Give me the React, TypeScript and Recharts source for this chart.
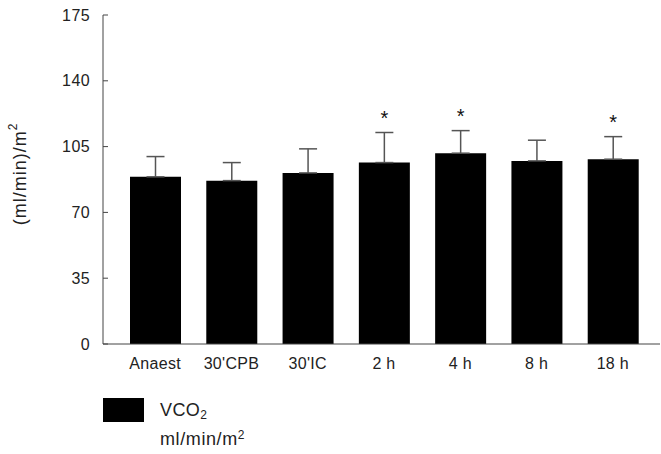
import {
  BarChart,
  Bar,
  XAxis,
  YAxis,
  ErrorBar,
  LabelList,
  Legend,
  Label,
} from "recharts";

const categories = ["Anaest", "30'CPB", "30'IC", "2 h", "4 h", "8 h", "18 h"];
const vco2 = [88.9, 86.9, 91.0, 96.5, 101.5, 97.4, 98.3];
const sd = [10.8, 9.6, 12.8, 16.0, 12.0, 11.0, 12.0];
const significant = [false, false, false, true, true, false, true];
const yTicks = [0, 35, 70, 105, 140, 175];

const data = categories.map((name, i) => ({
  name,
  vco2: vco2[i],
  err: [0, sd[i]],
  star: significant[i] ? "*" : "",
}));

const FONT = "'Liberation Sans', Arial, Helvetica, sans-serif";

function StarLabel(props: any) {
  const { x, y, width, height, index, value } = props;
  if (!value) return null;
  const pxPerUnit = height / vco2[index];
  const topY = y - sd[index] * pxPerUnit;
  return (
    <text
      x={x + width / 2}
      y={topY - 8}
      textAnchor="middle"
      fontSize={20}
      fontFamily={FONT}
      fill="#111"
    >
      {value}
    </text>
  );
}

function YLabel() {
  return (
    <text
      x={20}
      y={174}
      transform="rotate(-90, 20, 174)"
      textAnchor="middle"
      dominantBaseline="central"
      fontSize={18}
      letterSpacing={1}
      fontFamily={FONT}
      fill="#222"
    >
      (ml/min)/m
      <tspan fontSize={12} dy={-7}>
        2
      </tspan>
    </text>
  );
}

function LegendContent() {
  return (
    <div style={{ position: "relative", width: 220, height: 56, fontFamily: FONT, color: "#222" }}>
      <div
        style={{
          position: "absolute",
          left: 0,
          top: 0,
          width: 41,
          height: 24,
          background: "#000",
        }}
      />
      <div style={{ position: "absolute", left: 57, top: 2, fontSize: 18, lineHeight: "20px", letterSpacing: 0.4 }}>
        VCO<sub style={{ fontSize: 12, verticalAlign: "-3px" }}>2</sub>
      </div>
      <div style={{ position: "absolute", left: 57, top: 27, fontSize: 18, lineHeight: "20px", letterSpacing: 0.6 }}>
        ml/min/m<sup style={{ fontSize: 12, verticalAlign: "6px" }}>2</sup>
      </div>
    </div>
  );
}

export default function App() {
  return (
    <div style={{ width: 661, height: 454, background: "#fff" }}>
      <style>{`body{margin:0}`}</style>
      <BarChart
        width={661}
        height={454}
        data={data}
        margin={{ top: 15, right: 1, left: 0, bottom: 80 }}
        barSize={51}
      >
        <XAxis
          dataKey="name"
          height={30}
          tickLine={false}
          axisLine={{ stroke: "#444" }}
          tick={{ fill: "#222", fontSize: 16, fontFamily: FONT, letterSpacing: 0.3 }}
          tickMargin={8}
          interval={0}
          padding={{ left: 14, right: 9 }}
        />
        <YAxis
          width={103}
          domain={[0, 175]}
          ticks={yTicks}
          interval={0}
          tickSize={-5}
          tickMargin={18}
          axisLine={{ stroke: "#444" }}
          tickLine={{ stroke: "#444" }}
          tick={{ fill: "#222", fontSize: 16, fontFamily: FONT, letterSpacing: 0.4 }}
        >
          <Label content={<YLabel />} />
        </YAxis>
        <Legend
          layout="vertical"
          align="center"
          verticalAlign="middle"
          content={<LegendContent />}
          wrapperStyle={{ position: "absolute", left: 103, top: 398, width: 220, height: 56 }}
        />
        <Bar dataKey="vco2" name="VCO2" fill="#000" isAnimationActive={false}>
          <ErrorBar dataKey="err" width={9} stroke="#555" strokeWidth={1.5} direction="y" />
          <LabelList dataKey="star" content={<StarLabel />} />
        </Bar>
      </BarChart>
    </div>
  );
}
